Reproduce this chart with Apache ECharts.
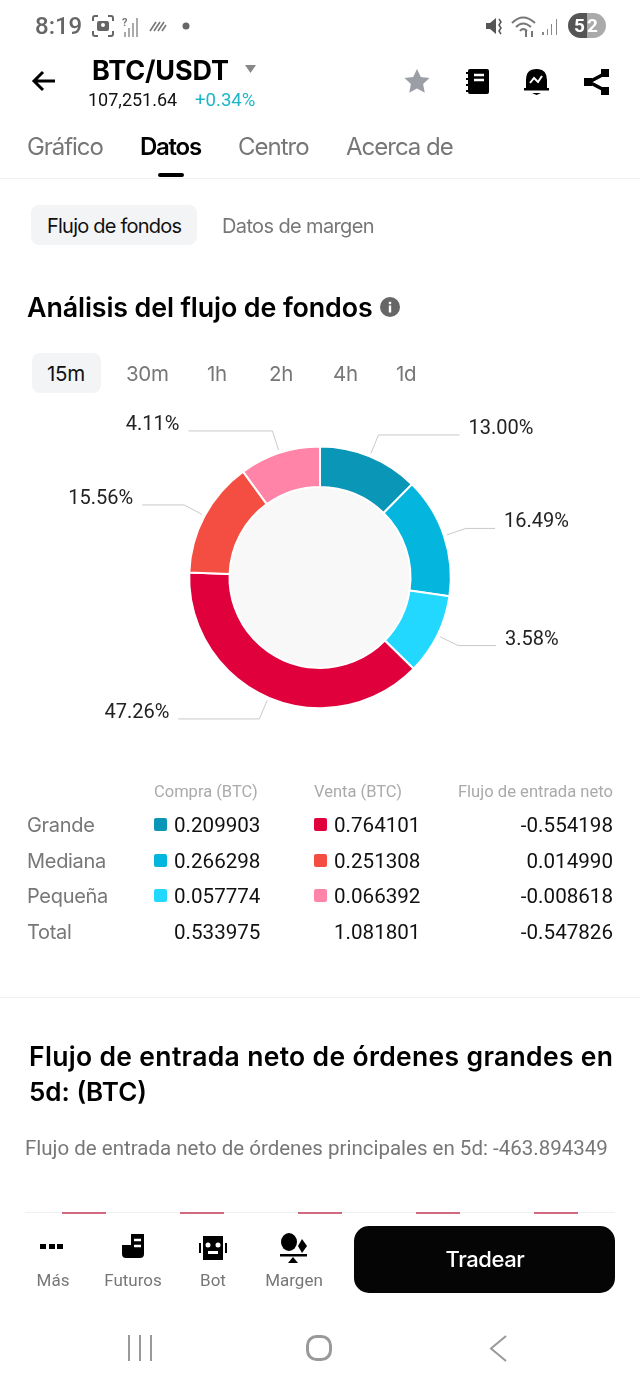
<!DOCTYPE html>
<html><head><meta charset="utf-8">
<style>
html,body{margin:0;padding:0;background:#fff;width:640px;height:1387px;overflow:hidden}
#page{position:absolute;left:0;top:0;width:640px;height:1387px;overflow:hidden}
#chart{position:absolute;left:0;top:0;width:640px;height:1387px}
.t{position:absolute;white-space:nowrap;transform:translateY(-50%);line-height:1.2}
.b{position:absolute}
svg{position:absolute;overflow:visible}
</style>
<script src="https://cdn.jsdelivr.net/npm/echarts@6/dist/echarts.min.js"></script>
</head><body><div id="page"><div id="chart"></div></div>
<script>
// Printed percentages, exactly as labelled in the picture
const sliceLabels = ['13.00%','16.49%','3.58%','47.26%','15.56%','4.11%'];
// Arc sizes as drawn in the picture (%). The picture draws small slices larger than their printed share.
const sliceArcs = [12.4,14.9,10,38.3,14.4,10];
const sliceNames = ['Compra grande','Compra mediana','Compra pequeña','Venta grande','Venta mediana','Venta pequeña'];
const sliceColors = ['#0a96b6','#04b5dd','#22d8ff','#df003c','#f44d41','#ff84a7'];
const rowNames = ['Grande','Mediana','Pequeña','Total'];
const buyValues = ['0.209903','0.266298','0.057774','0.533975'];
const sellValues = ['0.764101','0.251308','0.066392','1.081801'];
const netValues = ['-0.554198','0.014990','-0.008618','-0.547826'];
const tableHeads = ['Compra (BTC)','Venta (BTC)','Flujo de entrada neto'];
const timeTabs = ['15m','30m','1h','2h','4h','1d'];
const labelLineEnds = [81,29,38,81,42,84];

const page = document.getElementById('page');
function T(s,x,cy,size,color,weight,opt){
  opt=opt||{};
  const e=document.createElement('div');e.className='t';e.textContent=s;
  e.style.cssText+=`top:${cy}px;font-size:${size}px;color:${color};font-weight:${weight||400};font-family:${opt.f||'Roboto'},sans-serif;letter-spacing:${opt.ls||0}px;`;
  if(opt.right) e.style.right=(640-x)+'px'; else e.style.left=x+'px';
  page.appendChild(e);return e;
}
function B(x,y,w,h,bg,r){
  const e=document.createElement('div');e.className='b';
  const rad=typeof r==='string'?r:(r||0)+'px';
  e.style.cssText=`left:${x}px;top:${y}px;width:${w}px;height:${h}px;background:${bg};border-radius:${rad}`;
  page.appendChild(e);return e;
}
function S(x,y,w,h,inner){
  const e=document.createElementNS('http://www.w3.org/2000/svg','svg');
  e.setAttribute('width',w);e.setAttribute('height',h);e.setAttribute('viewBox',`0 0 ${w} ${h}`);
  e.style.left=x+'px';e.style.top=y+'px';e.innerHTML=inner;page.appendChild(e);
}
// status bar
T('8:19',35,26,24,'#666',500);
S(92,15,22,22,'<path d="M1 6V3q0-2 2-2h3M16 1h3q2 0 2 2v3M21 16v3q0 2-2 2h-3M6 21H3q-2 0-2-2v-3" fill="none" stroke="#666" stroke-width="2"/><rect x="5" y="6" width="12" height="10" rx="2" fill="#666"/><circle cx="11" cy="10" r="2" fill="#fff"/>');
S(122,17,18,20,'<text x="0" y="9" font-size="11" font-family="Roboto" font-weight="700" fill="#777">?</text><path d="M2 20v-5h2v5zM6 20V11h2v9zM10 20V6h2v14zM14 20V1h2v19z" fill="#aaa"/>');
S(149,20,18,12,'<path d="M1 11L7 2M5 11L11 2M9 11L15 2M13 11L17 5" stroke="#777" stroke-width="1.6" fill="none"/>');
S(182,22,8,8,'<circle cx="4" cy="4" r="3.5" fill="#666"/>');
S(486,16,17,21,'<path d="M0 7h4l6-5v16l-6-5H0z" fill="#555"/><path d="M13 3l2 3-2 3 2 3-2 3 2 3" stroke="#555" fill="none" stroke-width="1.5"/>');
S(511,15,26,24,'<path d="M1 8Q12-3 24 8M5 12Q12 5 20 12M9 16Q12 12 16 16" stroke="#777" fill="none" stroke-width="2"/><path d="M15 22v-6M21 22v-6" stroke="#555" stroke-width="1.6"/>');
S(541,18,18,18,'<path d="M1 17v-3h2v3zM6 17v-6h1v6zM10 17V6h1v11zM15 17V1h1v16z" fill="#888"/>');
B(568,13,19,25,'#555','13px 0 0 13px');B(587,13,19,25,'#aaa','0 13px 13px 0');
T('5',574,26,19,'#fff',700);T('2',587,26,19,'#fff',700);
// header
S(31,70,26,22,'<path d="M24 11H3M12 2L3 11l9 9" fill="none" stroke="#000" stroke-width="3"/>');
T('BTC/USDT',92,71,27,'#000',700,{f:'Inter',ls:-0.15});
S(245,65,11,8,'<path d="M0 0h11L5.500 8z" fill="#888"/>');
T('107,251.64',88,100,18,'#111',400);
T('+0.34%',195,100,18.6,'#1db6c6',400);
S(404,68,26,26,'<path d="M13 1l3.8 8 8.7 1.1-6.4 6 1.7 8.7L13 20.5 5.200 24.800l1.700-8.700-6.400-6L9.200 9z" fill="#9b9ea4"/>');
S(466,69,23,25,'<rect x="2" y="0" width="21" height="25" rx="2" fill="#000"/><path d="M8 6h10M8 11h10" stroke="#fff" stroke-width="2.500"/><path d="M0 4h4M0 10h4M0 16h4M0 22h4" stroke="#000" stroke-width="2"/>');
S(524,68,25,27,'<path d="M2 20V12Q2 1 12.500 1T23 12v8z" fill="#000"/><rect x="0" y="20" width="25" height="2.500" fill="#000"/><path d="M8 25h9l-4.500 2z" fill="#000"/><path d="M6 15l4-5 4 4 4-6" stroke="#fff" fill="none" stroke-width="2"/>');
S(584,68,25,28,'<path d="M22 5L5 14l17 9" stroke="#000" fill="none" stroke-width="3.500"/><rect x="17" y="1" width="8" height="8" fill="#000"/><rect x="17" y="19" width="8" height="8" fill="#000"/><rect x="0" y="10" width="8" height="8" fill="#000"/>');
// main tabs
T('Gráfico',27,147,24,'#777',400,{f:'Inter',ls:-1.05});
T('Datos',140,147,24,'#000',600,{f:'Inter',ls:-1.25});
T('Centro',238,147,24,'#777',400,{f:'Inter',ls:-1});
T('Acerca de',346,147,24,'#777',400,{f:'Inter',ls:-1});
B(158,173,26,4,'#000',2);
B(0,178,640,1,'#f1f1f1');
// sub tabs
B(31,205,166,40,'#f3f4f6',8);
T('Flujo de fondos',47,226,20,'#111',400,{f:'Inter',ls:-0.77});
T('Datos de margen',222,226,20,'#777',400,{f:'Inter',ls:-0.63});
T('Análisis del flujo de fondos',27,307,26.8,'#000',600,{f:'Inter',ls:-0.1});
S(380,297,20,20,'<circle cx="10" cy="10" r="10" fill="#666"/><rect x="8.800" y="8.500" width="2.400" height="7" fill="#fff"/><rect x="8.800" y="4.800" width="2.400" height="2.400" fill="#fff"/>');
B(32,353,69,40,'#f3f4f6',8);
const timeX=[47,126,207,269,333,396];
timeTabs.forEach((s,i)=>T(s,timeX[i],374,20.5,i?'#777':'#111',400,{f:'Inter',ls:-0.3}));
// table
T(tableHeads[0],154,792,16.5,'#aaa');T(tableHeads[1],314,792,16.5,'#aaa');T(tableHeads[2],613,792,16.6,'#aaa',400,{right:1});
const rowY=[825,860.5,896,931.5];
rowNames.forEach((n,i)=>{
  const y=rowY[i];
  T(n,27,y,20,'#777',400,{f:'Inter',ls:-0.3});
  if(i<3){B(154,y-7,13,13,sliceColors[i],2);B(314,y-7,13,13,sliceColors[i+3],2);}
  T(buyValues[i],174,y,20.6,'#111');
  T(sellValues[i],334,y,20.6,'#111');
  T(netValues[i],613,y,20.6,'#111',400,{right:1});
});
B(0,997,640,1,'#f1f1f1');
T('Flujo de entrada neto de órdenes grandes en',29,1057,26.5,'#000',600,{f:'Inter',ls:0.33});
T('5d: (BTC)',29,1092,26,'#000',600,{f:'Inter',ls:0});
T('Flujo de entrada neto de órdenes principales en 5d: -463.894349',25,1148,20.5,'#777',400);
// cropped chart top under the bottom bar
B(25,1212,590,1,'#f1f1f1');
[62,180,298,416,534].forEach(x=>B(x,1212,44,1.500,'#d06a80'));
// bottom bar
[[40,1244],[48.500,1244],[57,1244]].forEach(p=>B(p[0],p[1],6,5,'#000'));
S(122,1234,22,24,'<path d="M9 0h13v20q0 4-4 4H4q-4 0-4-4v-9h9z" fill="#000"/><path d="M12 6h7M12 12h7" stroke="#fff" stroke-width="2.500"/>');
S(199,1236,28,24,'<rect x="4" y="0" width="20" height="24" fill="#000"/><rect x="0" y="7" width="2" height="10" fill="#000"/><rect x="26" y="7" width="2" height="10" fill="#000"/><circle cx="9" cy="9" r="2.500" fill="#fff"/><circle cx="19" cy="9" r="2.500" fill="#fff"/><rect x="9" y="15" width="10" height="3" fill="#fff"/>');
S(280,1233,27,30,'<ellipse cx="9" cy="9" rx="8" ry="9" fill="#000"/><path d="M22 6l5 7-5 7-4-7z" fill="#000"/><rect x="0" y="21" width="27" height="2.500" fill="#000"/><path d="M13 24l-5 6h10z" fill="#000"/>');
[['Más',53],['Futuros',133],['Bot',213],['Margen',294]].forEach(a=>{T(a[0],a[1],1280,17,'#777').style.transform='translate(-50%,-50%)';});
B(354,1226,261,67,'#050505',15);
T('Tradear',485,1259,22,'#fff',500,{f:'Inter',ls:-0.4}).style.transform='translate(-50%,-50%)';
// navigation
S(127,1335,26,26,'<path d="M2 0v26M13 0v26M24 0v26" stroke="#999" stroke-width="2" fill="none"/>');
S(306,1335,26,26,'<rect x="1.500" y="1.500" width="23" height="23" rx="9" stroke="#999" stroke-width="3" fill="none"/>');
S(489,1335,18,27,'<path d="M17 1L2 13.500 17 26" stroke="#999" stroke-width="2" fill="none"/>');

// chart
const chart = echarts.init(document.getElementById('chart'),null,{width:640,height:1387});
const C=[320,577.4];
chart.setOption({
  animation:false,
  series:[
    {type:'pie',silent:true,center:C,radius:[0,91],startAngle:90,z:1,label:{show:false},labelLine:{show:false},
     data:[{value:1,name:'centro',itemStyle:{color:'#f8f8f8'}}]},
    {type:'pie',silent:true,center:C,radius:[90.5,130.8],startAngle:90,clockwise:true,z:2,
     avoidLabelOverlap:false,label:{show:false},labelLine:{show:false},
     itemStyle:{borderColor:'#fff',borderWidth:2},
     data:sliceArcs.map((v,i)=>({value:v,name:sliceNames[i],itemStyle:{color:sliceColors[i]}}))},
    {type:'pie',silent:true,center:C,radius:[133,134],startAngle:90,clockwise:true,z:3,
     avoidLabelOverlap:false,itemStyle:{color:'rgba(0,0,0,0)'},
     label:{show:true,position:'outside',distanceToLabelLine:9,fontFamily:'Roboto',fontSize:20,color:'#222',
       formatter:p=>sliceLabels[p.dataIndex]},
     labelLayout:{dy:-6},
     labelLine:{show:true,length:20,smooth:false,minTurnAngle:0,lineStyle:{color:'#c9c9c9',width:1}},
     data:sliceArcs.map((v,i)=>({value:v,name:sliceNames[i],labelLine:{length:20,length2:labelLineEnds[i]}}))}
  ]
});
</script></body></html>
